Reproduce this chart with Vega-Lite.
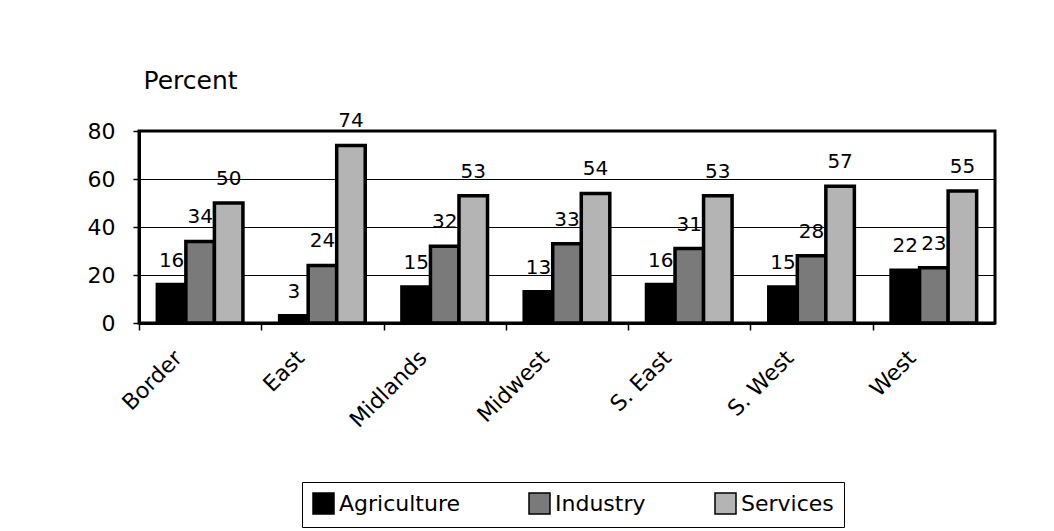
{
  "$schema": "https://vega.github.io/schema/vega-lite/v6.json",
  "width": 856,
  "height": 192,
  "autosize": "none",
  "padding": {"left": 139, "top": 131, "right": 59, "bottom": 208},
  "background": "white",
  "config": {
    "font": "DejaVu Sans",
    "view": {"stroke": "black", "strokeWidth": 3},
    "axis": {"labelColor": "black", "titleColor": "black", "domainColor": "black", "tickColor": "black"}
  },
  "data": {
    "values": [
      {"region": "Border", "sector": "Agriculture", "pct": 16},
      {"region": "Border", "sector": "Industry", "pct": 34},
      {"region": "Border", "sector": "Services", "pct": 50},
      {"region": "East", "sector": "Agriculture", "pct": 3},
      {"region": "East", "sector": "Industry", "pct": 24},
      {"region": "East", "sector": "Services", "pct": 74},
      {"region": "Midlands", "sector": "Agriculture", "pct": 15},
      {"region": "Midlands", "sector": "Industry", "pct": 32},
      {"region": "Midlands", "sector": "Services", "pct": 53},
      {"region": "Midwest", "sector": "Agriculture", "pct": 13},
      {"region": "Midwest", "sector": "Industry", "pct": 33},
      {"region": "Midwest", "sector": "Services", "pct": 54},
      {"region": "S. East", "sector": "Agriculture", "pct": 16},
      {"region": "S. East", "sector": "Industry", "pct": 31},
      {"region": "S. East", "sector": "Services", "pct": 53},
      {"region": "S. West", "sector": "Agriculture", "pct": 15},
      {"region": "S. West", "sector": "Industry", "pct": 28},
      {"region": "S. West", "sector": "Services", "pct": 57},
      {"region": "West", "sector": "Agriculture", "pct": 22},
      {"region": "West", "sector": "Industry", "pct": 23},
      {"region": "West", "sector": "Services", "pct": 55}
    ]
  },
  "encoding": {
    "x": {
      "field": "region", "type": "nominal", "sort": null,
      "scale": {"paddingInner": 0.3, "paddingOuter": 0.15},
      "axis": {
        "title": null, "labelAngle": -45, "labelFontSize": 22, "labelAlign": "right", "labelBaseline": "middle",
        "tickOffset": -61.15, "labelOffset": 39, "labelPadding": 24, "tickSize": 7, "tickWidth": 1.5,
        "domainWidth": 3, "grid": false
      }
    },
    "xOffset": {"field": "sector", "type": "nominal", "scale": {"paddingInner": 0, "paddingOuter": 0}},
    "y": {
      "field": "pct", "type": "quantitative",
      "scale": {"domain": [0, 80]},
      "axis": {
        "values": [0, 20, 40, 60, 80], "labelFontSize": 22, "labelPadding": 18, "tickSize": 6, "tickWidth": 1.5,
        "domainWidth": 3, "gridColor": "black", "gridWidth": 1, "gridOpacity": 1,
        "title": "Percent", "titleAngle": 0, "titleFontSize": 25, "titleFontWeight": "normal",
        "titleAlign": "left", "titleBaseline": "alphabetic", "titleX": 4, "titleY": -43
      }
    }
  },
  "layer": [
    {
      "mark": {"type": "bar", "stroke": "black", "strokeWidth": 3.5},
      "encoding": {
        "fill": {
          "field": "sector", "type": "nominal",
          "scale": {"domain": ["Agriculture", "Industry", "Services"], "range": ["#000000", "#7a7a7a", "#b4b4b4"]},
          "legend": {
            "title": null, "orient": "none", "legendX": 163, "legendY": 351, "direction": "horizontal",
            "strokeColor": "black", "padding": 10, "symbolType": "square", "symbolSize": 441,
            "symbolStrokeColor": "black", "symbolStrokeWidth": 1.5, "labelFontSize": 22, "labelColor": "black",
            "columnPadding": 66, "symbolOffset": 0, "labelOffset": 4, "fillColor": "white", "labelLimit": 300
          }
        }
      }
    },
    {
      "mark": {"type": "text", "baseline": "alphabetic", "dy": -18, "fontSize": 20, "color": "black"},
      "encoding": {"text": {"field": "pct", "type": "quantitative"}}
    }
  ]
}
